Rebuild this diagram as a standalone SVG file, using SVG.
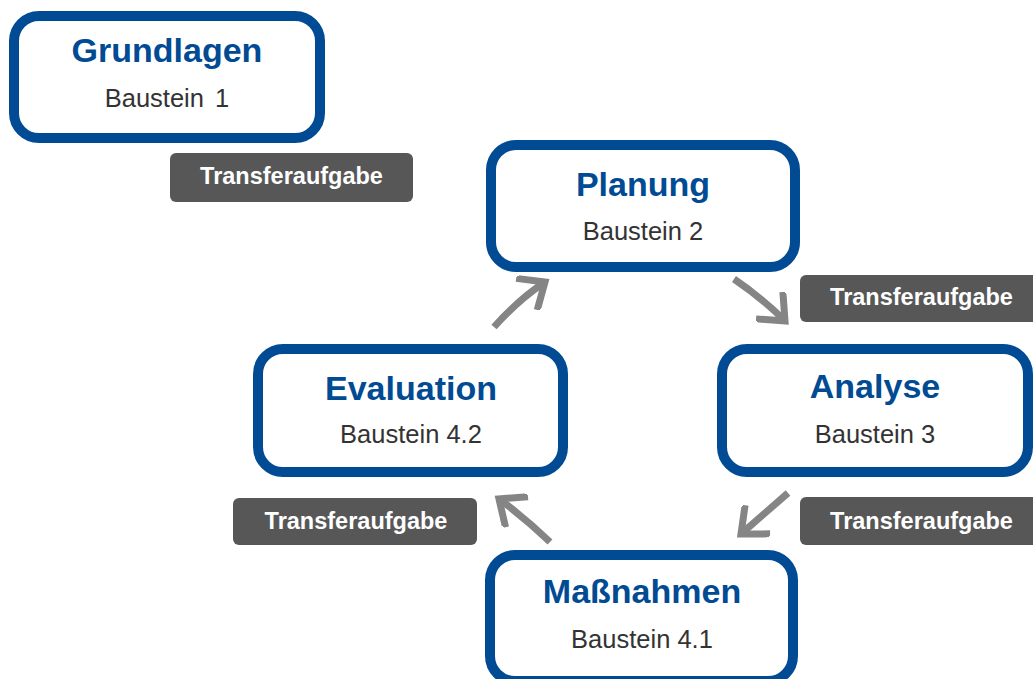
<svg xmlns="http://www.w3.org/2000/svg" width="1033" height="679" viewBox="0 0 1033 679">
<style>
.box{fill:#fff;stroke:#004b93;stroke-width:10}
.title{font-family:"Liberation Sans",Arial,sans-serif;font-weight:bold;font-size:34px;fill:#004b93;text-anchor:middle}
.sub{font-family:"Liberation Sans",Arial,sans-serif;font-size:25.5px;fill:#333;text-anchor:middle}
.tag{fill:#575757}
.tagt{font-family:"Liberation Sans",Arial,sans-serif;font-weight:bold;font-size:23.5px;fill:#fff;text-anchor:middle}
.arr{fill:none;stroke:#858585;stroke-width:7;marker-end:url(#head)}
</style>
<defs>
<marker id="head" markerUnits="userSpaceOnUse" markerWidth="40" markerHeight="40" viewBox="-30 -20 34 40" refX="0" refY="0" orient="auto">
<path d="M-22 -19 L0 0 L-22 19" fill="none" stroke="#858585" stroke-width="7" stroke-linejoin="miter" stroke-miterlimit="2"/>
</marker>
</defs>
<rect width="1033" height="679" fill="#fff"/>
<g id="connectors">
<path class="arr" d="M494 327 Q518 300 545 282"/>
<path class="arr" d="M734 279 Q762 298 785 321"/>
<path class="arr" d="M788 493 L741 534"/>
<path class="arr" d="M550 542 Q525 518 499 499"/>
</g>
<g id="grundlagen">
<rect class="box" x="14" y="16" width="306" height="122" rx="25"/>
<text class="title" x="167" y="62">Grundlagen</text>
<text class="sub" x="167" y="107" word-spacing="4">Baustein 1</text>
</g>
<g id="planung">
<rect class="box" x="491" y="145" width="304" height="122" rx="25"/>
<text class="title" x="643" y="196">Planung</text>
<text class="sub" x="643" y="240">Baustein 2</text>
</g>
<g id="analyse">
<rect class="box" x="722" y="349" width="306" height="123" rx="25"/>
<text class="title" x="875" y="398">Analyse</text>
<text class="sub" x="875" y="443">Baustein 3</text>
</g>
<g id="evaluation">
<rect class="box" x="258" y="349" width="305" height="123" rx="25"/>
<text class="title" x="411" y="400">Evaluation</text>
<text class="sub" x="411" y="443">Baustein 4.2</text>
</g>
<g id="massnahmen">
<rect class="box" x="490" y="555" width="303" height="126" rx="25"/>
<text class="title" x="642" y="603">Maßnahmen</text>
<text class="sub" x="642" y="648">Baustein 4.1</text>
</g>
<g id="transfer1">
<rect class="tag" x="170" y="153" width="243" height="49" rx="6"/>
<text class="tagt" x="291.5" y="184">Transferaufgabe</text>
</g>
<g id="transfer2">
<rect class="tag" x="800" y="275" width="245" height="47" rx="6"/>
<text class="tagt" x="921.5" y="305">Transferaufgabe</text>
</g>
<g id="transfer3">
<rect class="tag" x="800" y="497" width="245" height="48" rx="6"/>
<text class="tagt" x="921.5" y="529">Transferaufgabe</text>
</g>
<g id="transfer4">
<rect class="tag" x="233" y="498" width="244" height="47" rx="6"/>
<text class="tagt" x="356" y="529">Transferaufgabe</text>
</g>
</svg>
